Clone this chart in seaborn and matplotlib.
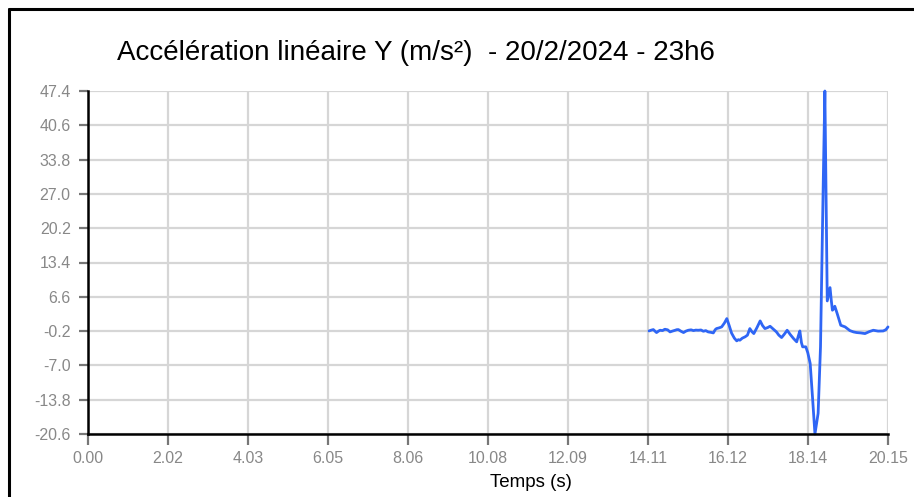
import matplotlib
matplotlib.use("Agg")
import matplotlib.pyplot as plt
from matplotlib.lines import Line2D
import seaborn as sns
import pandas as pd

# ---- data ----
time_s = [14.13, 14.19, 14.24, 14.28, 14.32, 14.37, 14.41, 14.47, 14.53, 14.60,
          14.66, 14.72, 14.79, 14.83, 14.87, 14.94, 15.00, 15.06, 15.12, 15.19,
          15.25, 15.31, 15.37, 15.44, 15.50, 15.56, 15.62, 15.69, 15.75, 15.80,
          15.83, 15.90, 15.96, 16.03, 16.09, 16.15, 16.21, 16.28, 16.34, 16.38,
          16.42, 16.48, 16.55, 16.61, 16.67, 16.72, 16.77, 16.85, 16.93, 16.99,
          17.05, 17.12, 17.18, 17.26, 17.34, 17.40, 17.47, 17.54, 17.61, 17.69,
          17.77, 17.81, 17.85, 17.89, 17.93, 17.97, 18.00, 18.08, 18.13, 18.19,
          18.25, 18.31, 18.39, 18.45, 18.52, 18.56, 18.62, 18.69, 18.72, 18.75,
          18.78, 18.81, 18.87, 18.96, 19.07, 19.19, 19.28, 19.36, 19.46, 19.57,
          19.68, 19.78, 19.90, 20.03, 20.10, 20.15]
accel_y = [-0.17, 0.0, 0.10, -0.2, -0.49, -0.2, -0.03, -0.1, 0.17, 0.05,
           -0.36, -0.2, -0.03, 0.08, 0.10, -0.25, -0.49, -0.2, -0.03, 0.05,
           -0.10, 0.0, -0.03, 0.02, -0.23, -0.1, -0.36, -0.45, -0.56, 0.1,
           0.30, 0.45, 0.63, 1.4, 2.28, 0.9, -0.6, -1.6, -2.14, -1.9,
           -2.00, -1.6, -1.34, -1.0, 0.30, -0.3, -0.69, 0.5, 1.82, 0.9,
           0.30, 0.5, 0.76, 0.2, -0.36, -1.0, -1.48, -0.8, -0.03, -0.9,
           -1.67, -2.0, -2.33, -1.2, -0.17, -2.5, -3.32, -3.32, -4.5, -6.62,
           -13.5, -20.6, -16.5, -3.3, 29.7, 47.4, 5.78, 8.42, 6.0, 3.94,
           4.2, 4.73, 3.28, 0.96, 0.63, -0.1, -0.36, -0.49, -0.56, -0.69,
           -0.3, -0.03, -0.2, -0.17, 0.1, 0.63]

x_ticks = [0.0, 2.015, 4.03, 6.045, 8.06, 10.075, 12.09, 14.105, 16.12, 18.135, 20.15]
x_tick_labels = ["0.00", "2.02", "4.03", "6.05", "8.06", "10.08", "12.09",
                 "14.11", "16.12", "18.14", "20.15"]
y_ticks = [-20.6, -13.8, -7.0, -0.2, 6.6, 13.4, 20.2, 27.0, 33.8, 40.6, 47.4]
y_tick_labels = ["-20.6", "-13.8", "-7.0", "-0.2", "6.6", "13.4", "20.2",
                 "27.0", "33.8", "40.6", "47.4"]

title = "Accélération linéaire Y (m/s²)  - 20/2/2024 - 23h6"
x_label = "Temps (s)"

df = pd.DataFrame({"t": time_s, "a": accel_y})

sns.set_style("white")
plt.rcParams["font.family"] = ["Liberation Sans", "DejaVu Sans"]

W, H = 914, 497
fig = plt.figure(figsize=(W / 100, H / 100), dpi=100)
ax = fig.add_axes([88 / W, 1 - 434 / H, (888 - 88) / W, (434 - 91) / H])

sns.lineplot(data=df, x="t", y="a", ax=ax, color="#2f66f5", linewidth=2.0,
             clip_on=False)

ax.set_xlim(0, 20.15)
ax.set_ylim(-20.6, 47.4)
ax.set_xticks(x_ticks)
ax.set_xticklabels(x_tick_labels)
ax.set_yticks(y_ticks)
ax.set_yticklabels(y_tick_labels)
ax.set_xlabel("")
ax.set_ylabel("")

ax.grid(True, color="#d6d6d6", linewidth=1.6)
ax.set_axisbelow(True)
for side in ["top", "right"]:
    ax.spines[side].set_visible(False)
for side in ["left", "bottom"]:
    ax.spines[side].set_color("black")
    ax.spines[side].set_linewidth(1.8)
    ax.spines[side].set_zorder(3)

ax.tick_params(axis="both", which="major", width=1.6, color="#777777",
               labelcolor="#888888", labelsize=11.5)
ax.tick_params(axis="x", bottom=True, direction="out", length=8, pad=4)
ax.tick_params(axis="y", left=True, direction="out", length=6.5, pad=6)

fig.text(117 / W, 1 - 60 / H, title, fontsize=20, color="black",
         ha="left", va="baseline")
fig.text(490 / W, 1 - 487 / H, x_label, fontsize=13.5, color="black",
         ha="left", va="baseline")

# outer frame (top and left edges only are visible)
fig.add_artist(Line2D([9 / W, 1.0], [1 - 9 / H, 1 - 9 / H], color="black",
                      linewidth=2.2, transform=fig.transFigure))
fig.add_artist(Line2D([9 / W, 9 / W], [0.0, 1 - 9 / H], color="black",
                      linewidth=2.2, transform=fig.transFigure))

fig.savefig("out.png", dpi=100, facecolor="white")
